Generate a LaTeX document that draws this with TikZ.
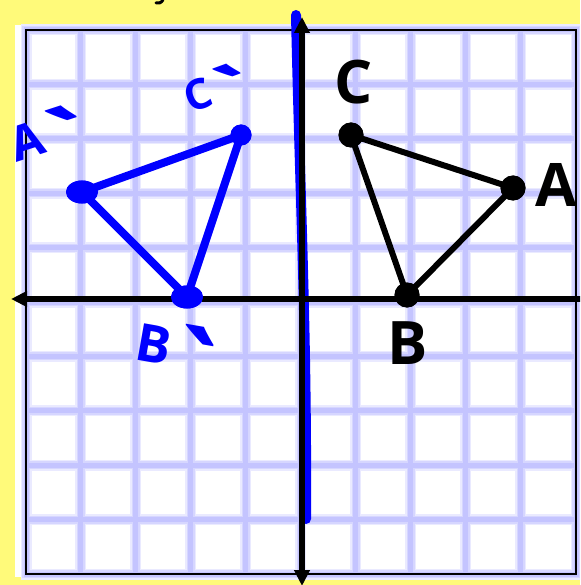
\documentclass[tikz,border=0pt]{standalone}
\usepackage{fontspec}
\setmainfont{Open Sans}
\usetikzlibrary{arrows.meta,shapes.geometric}
\definecolor{bgyellow}{RGB}{255,250,122}
\definecolor{gridlav}{RGB}{196,196,255}
\definecolor{penblue}{RGB}{0,0,255}
\newcommand{\bigprime}{\kern-0.12em\raisebox{-0.78em}{\scalebox{2.1}{\textasciigrave}}}
\begin{document}
\begin{tikzpicture}[x=1pt,y=-1pt,
  gridsoft/.style={draw=gridlav!35,line width=11pt},
  gridmid/.style={draw=gridlav!70,line width=8pt},
  gridcore/.style={draw=gridlav,line width=5pt},
  axisline/.style={draw=black,line width=6pt},
  dotblack/.style={circle,fill=black,inner sep=0pt,minimum size=25pt},
  dotblue/.style={ellipse,fill=penblue,inner sep=0pt,minimum width=32pt,minimum height=23pt},
  dotbluesmall/.style={circle,fill=penblue,inner sep=0pt,minimum size=21pt},
  blackedge/.style={draw=black,line width=6pt,line cap=round},
  blueedge/.style={draw=penblue,line width=8pt,line cap=round},
  lblblack/.style={inner sep=0pt,text=black,font=\fontsize{60}{64}\selectfont\bfseries},
  lblblue/.style={inner sep=0pt,text=penblue,font=\fontsize{48}{52}\selectfont\bfseries}
]
\useasboundingbox (0,0) rectangle (580,585);
\clip (0,0) rectangle (580,585);
% background
\fill[bgyellow] (0,0) rectangle (580,585);
\fill[white] (15,25) rectangle (577,577);
% grid
\foreach \st in {gridsoft,gridmid,gridcore}{
  \foreach \i in {1,...,9}{
    \draw[\st] ({26+54.95*\i},30) -- ({26+54.95*\i},574);
    \draw[\st] (26,{30+54.4*\i}) -- (576,{30+54.4*\i});
  }
  \draw[\st] (26,30) rectangle (576,574);
}
\draw[black,line width=2pt] (26,30) rectangle (576,574);
% small cut-off mark at the top
\draw[black,line width=3pt,line cap=round] (163,0) .. controls (161,3) and (158,4) .. (156,3);
% mirror line
\coordinate (mt) at (296,15);
\coordinate (mb) at (306,519);
\draw[draw=penblue,line width=10pt,line cap=round] (mt) .. controls (300,200) and (307,330) .. (mb);
% axes
\coordinate (xl) at (11,299);
\coordinate (xr) at (590,299);
\coordinate (yt) at (302,17);
\coordinate (yb) at (302,586);
\draw[axisline,-{Triangle[length=16pt,width=15pt]}] (xr) -- (xl);
\draw[axisline,{Triangle[length=16pt,width=15pt]}-{Triangle[length=16pt,width=15pt]}] (yt) -- (yb);
% black triangle
\node[dotblack] (A) at (513,188) {};
\node[dotblack] (B) at (407,295) {};
\node[dotblack] (C) at (351,135) {};
\draw[blackedge] (A.center) -- (B.center) -- (C.center) -- cycle;
\node[dotblack] at (A) {};
\node[dotblack] at (B) {};
\node[dotblack] at (C) {};
\node[lblblack] (LA) at (556,185) {A};
\node[lblblack] (LB) at (408,343) {B};
\node[lblblack] (LC) at (354,82) {C};
% blue triangle
\node[dotblue] (A2) at (82,192) {};
\node[dotblue] (B2) at (187,297) {};
\node[dotbluesmall] (C2) at (241,135) {};
\draw[blueedge] (A2.center) -- (B2.center) -- (C2.center) -- cycle;
\node[dotblue] at (A2) {};
\node[dotblue] at (B2) {};
\node[dotbluesmall] at (C2) {};
\node[lblblue,rotate=18] (LA2) at (58,148) {A\bigprime};
\node[lblblue,rotate=-10,font=\fontsize{52}{56}\selectfont\bfseries] (LB2) at (180,366) {B\bigprime};
\node[lblblue,rotate=20,font=\fontsize{42}{46}\selectfont\bfseries] (LC2) at (226,100) {C\bigprime};
\end{tikzpicture}
\end{document}
